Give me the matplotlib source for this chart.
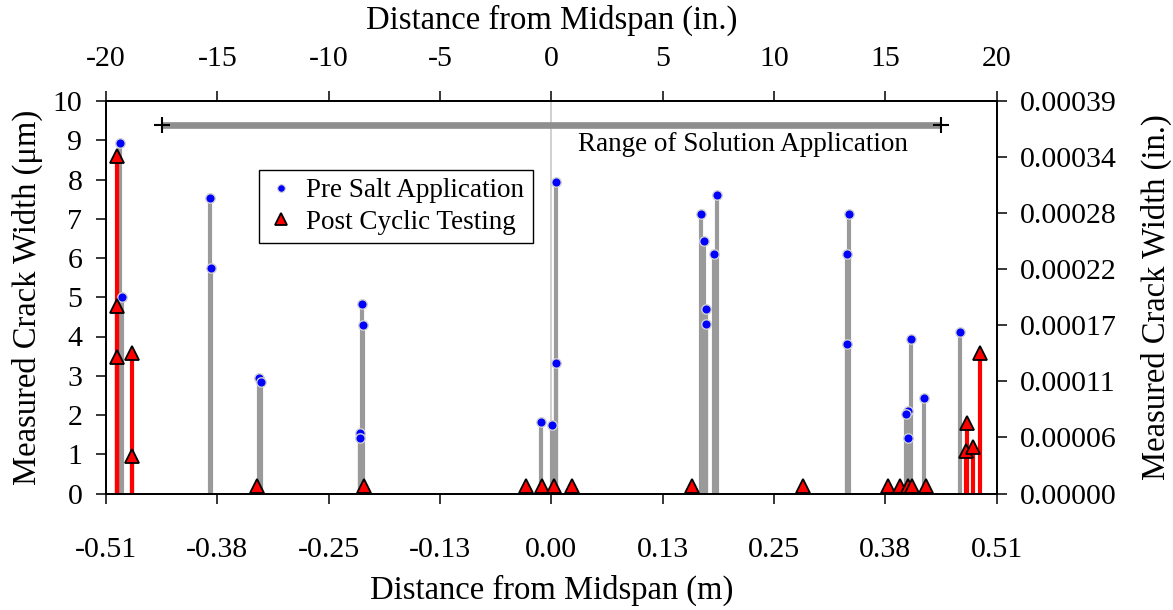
import matplotlib

matplotlib.use("Agg")
import matplotlib.pyplot as plt
from matplotlib.lines import Line2D

plt.rcParams["font.family"] = ["Liberation Serif", "DejaVu Serif"]
plt.rcParams["axes.unicode_minus"] = False

# crack positions in inches from midspan, widths in micrometres
pre_x = [-19.38, -19.30, -15.33, -15.28, -13.13, -13.05, -8.51, -8.44, -8.59, -8.58,
         -0.46, 0.02, 0.20, 0.20, 6.74, 6.87, 6.95, 6.95, 7.45, 7.29,
         13.35, 13.28, 13.28, 16.14, 16.00, 15.93, 16.00, 16.72, 18.37]
pre_w = [8.92, 5.00, 7.54, 5.74, 2.93, 2.85, 4.83, 4.30, 1.53, 1.41,
         1.81, 1.74, 7.94, 3.33, 7.12, 6.43, 4.71, 4.31, 7.61, 6.10,
         7.12, 6.10, 3.82, 3.94, 2.10, 2.02, 1.41, 2.43, 4.11]

post_x = [-19.52, -19.50, -19.50, -18.84, -18.84,
          -13.20, -8.40, -1.15, -0.43, 0.12, 0.93, 6.33, 11.29,
          15.10, 15.66, 16.03, 16.18, 16.83,
          18.62, 18.68, 18.92, 19.25]
post_w = [8.60, 4.78, 3.49, 3.57, 0.96,
          0.18, 0.18, 0.18, 0.18, 0.18, 0.18, 0.18, 0.18,
          0.18, 0.18, 0.18, 0.18, 0.18,
          1.08, 1.79, 1.18, 3.57]

range_x = [-17.5, 17.5]
range_y = [9.39, 9.39]

x_ticks = [-20, -15, -10, -5, 0, 5, 10, 15, 20]
x_top_labels = ["-20", "-15", "-10", "-5", "0", "5", "10", "15", "20"]
x_bottom_labels = ["-0.51", "-0.38", "-0.25", "-0.13", "0.00", "0.13", "0.25", "0.38", "0.51"]
y_ticks = [0, 1, 2, 3, 4, 5, 6, 7, 8, 9, 10]
y_right_ticks = [0, 10 / 7, 20 / 7, 30 / 7, 40 / 7, 50 / 7, 60 / 7, 10]
y_right_labels = ["0.00000", "0.00006", "0.00011", "0.00017", "0.00022", "0.00028", "0.00034", "0.00039"]

fig = plt.figure(figsize=(11.73, 6.10), dpi=100)
ax = fig.add_axes([106 / 1173, 1 - 493.5 / 610, 890.6 / 1173, 392.5 / 610])
ax.set_xlim(-20, 20)
ax.set_ylim(0, 10)

GRAY = "#9a9a9a"
RED = "#ff0000"

ax.axvline(0, color="#c8c8c8", linewidth=1.2, zorder=1)

ax.vlines(pre_x, 0, pre_w, colors=GRAY, linewidth=3.0, zorder=2)
ax.vlines(post_x, 0, post_w, colors=RED, linewidth=3.0, zorder=3)
ax.plot(pre_x, pre_w, linestyle="none", marker="o", markersize=6.8,
        markerfacecolor="#0000ff", markeredgecolor="#d0d0d0", markeredgewidth=1.0, zorder=4)
ax.plot(post_x, post_w, linestyle="none", marker="^", markersize=9.5,
        markerfacecolor=RED, markeredgecolor="black", markeredgewidth=1.3, zorder=5)

# range of solution application bar
ax.plot(range_x, range_y, color="#8e8e8e", linewidth=4.8, solid_capstyle="butt", zorder=3)
ax.plot(range_x, range_y, linestyle="none", marker="+", markersize=11,
        markeredgecolor="black", markeredgewidth=1.5, zorder=4)
ax.text(8.61, 8.9, "Range of Solution Application", fontsize=19.5,
        ha="center", va="center")

ax.set_xticks(x_ticks)
ax.set_xticklabels(x_bottom_labels)
ax.set_yticks(y_ticks)
ax.tick_params(axis="both", direction="out", length=7, width=1.1, labelsize=21.5)
ax.tick_params(axis="x", pad=24)
ax.tick_params(axis="y", pad=10)
ax.set_xlabel("Distance from Midspan (m)", fontsize=23.5, labelpad=9)
ax.set_ylabel("Measured Crack Width (\u03bcm)", fontsize=23.5, labelpad=7)

ax_top = ax.twiny()
ax_top.set_xlim(-20, 20)
ax_top.set_xticks(x_ticks)
ax_top.set_xticklabels(x_top_labels)
ax_top.tick_params(axis="x", direction="out", length=7, width=1.1, labelsize=21.5, pad=14)
ax_top.set_xlabel("Distance from Midspan (in.)", fontsize=23.5, labelpad=12)

ax_right = ax.twinx()
ax_right.set_ylim(0, 10)
ax_right.set_yticks(y_right_ticks)
ax_right.set_yticklabels(y_right_labels)
ax_right.tick_params(axis="y", direction="out", length=7, width=1.1, labelsize=21.5, pad=10)
ax_right.set_ylabel("Measured Crack Width (in.)", fontsize=23.5, labelpad=17)

for a in (ax, ax_top, ax_right):
    for spine in a.spines.values():
        spine.set_linewidth(1.1)
        spine.set_color("black")

handles = [
    Line2D([], [], linestyle="none", marker="o", markersize=5.5, markerfacecolor="#0000ff",
           markeredgecolor="#d0d0d0", markeredgewidth=0.8),
    Line2D([], [], linestyle="none", marker="^", markersize=9, markerfacecolor=RED,
           markeredgecolor="black", markeredgewidth=1.3),
]
leg = ax.legend(handles, ["Pre Salt Application", "Post Cyclic Testing"],
                loc="upper left", bbox_to_anchor=(0.1718, 0.824), borderaxespad=0,
                fontsize=19.5, frameon=True, fancybox=False, framealpha=1,
                edgecolor="black", handlelength=1.0, handletextpad=0.45,
                borderpad=0.3, labelspacing=0.25)
leg.get_frame().set_linewidth(1.0)
leg.set_zorder(10)

fig.savefig("out.png", dpi=100)
plt.close(fig)
